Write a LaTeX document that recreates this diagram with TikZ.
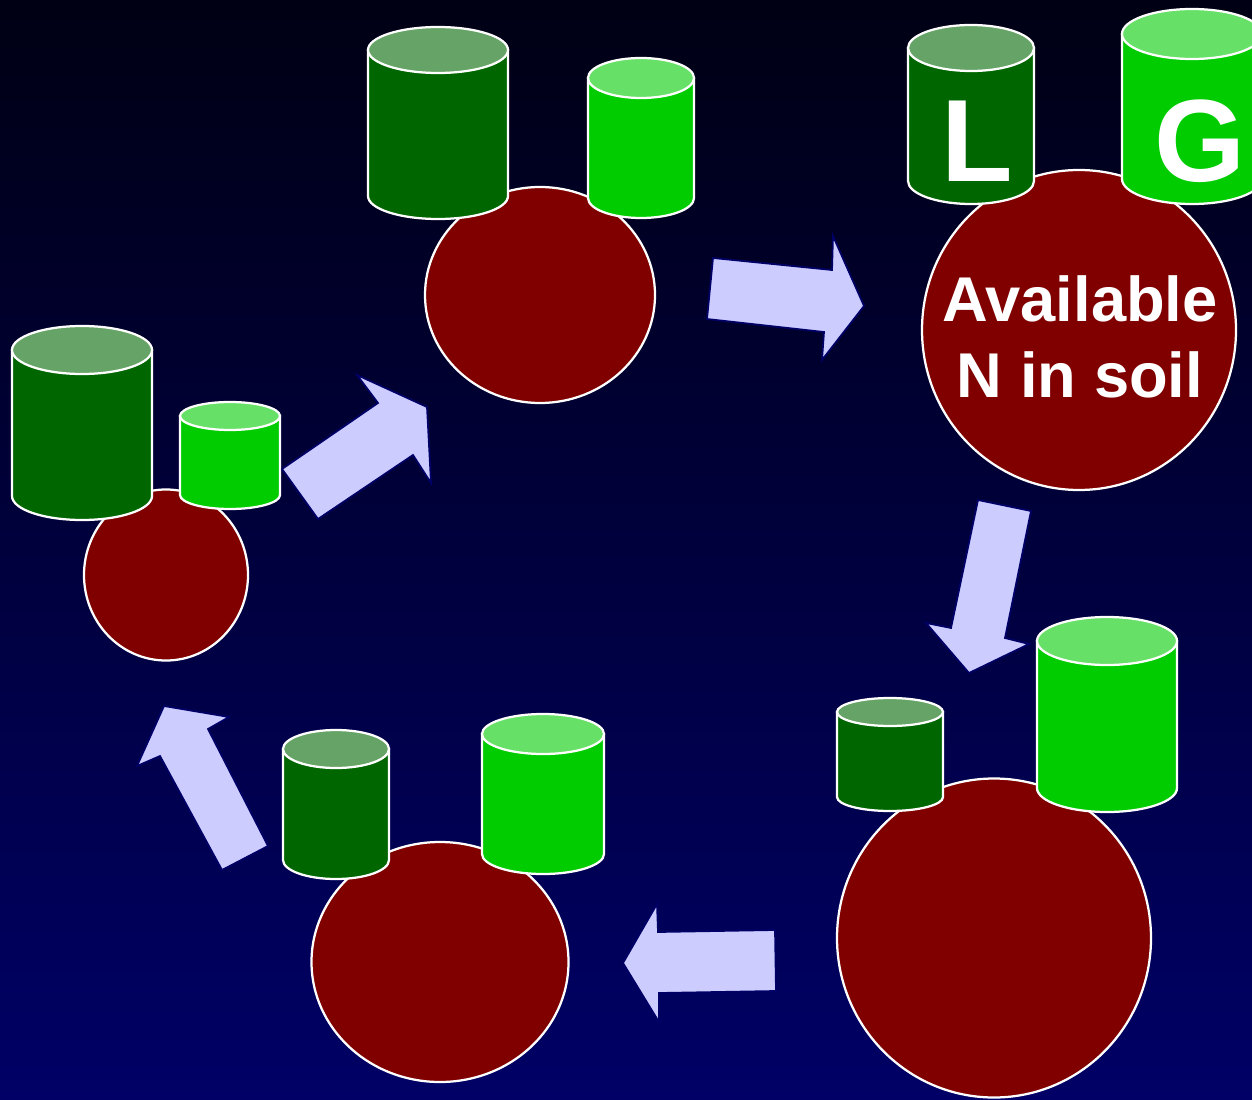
\documentclass[tikz,border=0pt]{standalone}
\usepackage{fontspec}
\setmainfont{Liberation Sans}
\usetikzlibrary{shapes.geometric}

\definecolor{soilred}{HTML}{800000}
\definecolor{leafbody}{HTML}{006600}
\definecolor{leaftop}{HTML}{66A366}
\definecolor{grassbody}{HTML}{00CC00}
\definecolor{grasstop}{HTML}{66E066}
\definecolor{flowfill}{HTML}{CCCCFF}
\definecolor{flowline}{HTML}{000066}
\definecolor{skytop}{HTML}{000014}
\definecolor{skybottom}{HTML}{000066}

% pool: centre x, top y, bottom y, half width, y radius, body colour, top colour
\newcommand{\pool}[7]{%
  \filldraw[fill=#6, draw=white, line width=0.45mm] (#1-#4,#2) -- (#1-#4,#3)
    arc[start angle=180, end angle=360, x radius=#4, y radius=#5] -- (#1+#4,#2) -- cycle;
  \filldraw[fill=#7, draw=white, line width=0.45mm] (#1,#2) ellipse[x radius=#4, y radius=#5];
}

\begin{document}
\begin{tikzpicture}[
            x=0.2mm, y=0.2mm,
            soil/.style={ellipse, draw=white, fill=soilred, line width=0.45mm, inner sep=0pt},
            flow/.style={fill=flowfill, draw=flowline, line width=0.35mm, line join=miter},
            letter/.style={text=white, font=\fontsize{66.6}{70}\selectfont\bfseries, inner sep=0pt, anchor=base}
            ]
            \useasboundingbox (0,0) rectangle (1252,1099);
            \shade[top color=skytop, bottom color=skybottom] (0,0) rectangle (1252,1099);

            % soil pools
            \node[soil, minimum width=46mm, minimum height=43.2mm] (hub) at (540,804) {};
            \node[soil, minimum width=62.8mm, minimum height=64mm] (avail) at (1079,769) {};
            \node[soil, minimum width=32.8mm, minimum height=34.2mm] (low) at (166,524) {};
            \node[soil, minimum width=62.8mm, minimum height=63.8mm] (high) at (994,161) {};
            \node[soil, minimum width=51.4mm, minimum height=48mm] (mid) at (440,137) {};

            % legume and grass pools
            \pool{438}{1049}{903}{70}{23}{leafbody}{leaftop}
            \pool{641}{1021}{901}{53}{20}{grassbody}{grasstop}
            \pool{971}{1051}{918}{63}{23}{leafbody}{leaftop}
            \pool{1192}{1065}{920}{70}{25}{grassbody}{grasstop}
            \pool{82}{749}{603}{70}{24}{leafbody}{leaftop}
            \pool{230}{683}{604}{50}{14}{grassbody}{grasstop}
            \pool{890}{387}{302}{53}{14}{leafbody}{leaftop}
            \pool{1107}{458}{311}{70}{24}{grassbody}{grasstop}
            \pool{336}{350}{239}{53}{19}{leafbody}{leaftop}
            \pool{543}{365}{245}{61}{20}{grassbody}{grasstop}

            % arrows round the cycle
            \filldraw[flow] (713,841) -- (832,829) -- (833,863) -- (864,793) -- (822,739) -- (824,767) -- (707,780) -- cycle;
            \filldraw[flow] (978,599) -- (1031,588) -- (1005,461) -- (1029,455) -- (969,426) -- (926,476) -- (951,471) -- cycle;
            \filldraw[flow] (775,169) -- (658,167) -- (657,195) -- (623,136) -- (659,77) -- (659,106) -- (776,108) -- cycle;
            \filldraw[flow] (222,229) -- (268,253) -- (208,370) -- (229,382) -- (164,393) -- (137,333) -- (160,343) -- cycle;
            \filldraw[flow] (282,630) -- (378,696) -- (357,724) -- (427,692) -- (431,616) -- (413,644) -- (318,580) -- cycle;

            \node[letter] (leg) at (977,917) {L};
            \node[letter] (gra) at (1200,917) {G};
            \node[text=white, font=\fontsize{36}{43}\selectfont\bfseries, align=center, inner sep=0pt] (lbl) at (1080,762) {Available\\N in soil};
\end{tikzpicture}
\end{document}
